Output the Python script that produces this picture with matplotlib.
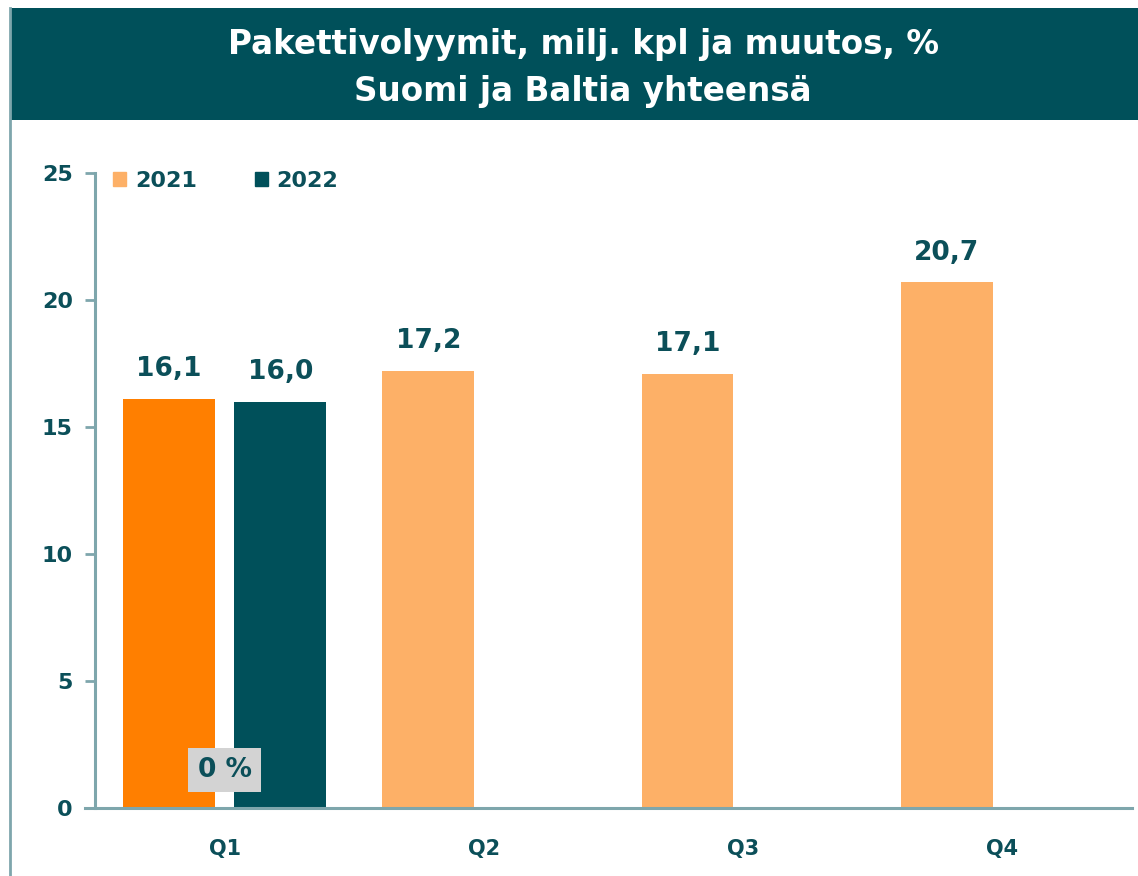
import matplotlib.pyplot as plt
import numpy as np
from matplotlib.lines import Line2D
from matplotlib.patches import Rectangle

# Data.
quarters = ['Q1', 'Q2', 'Q3', 'Q4']
volumes_2021 = [16.1, 17.2, 17.1, 20.7]
volumes_2022 = [16.0]                 # only Q1 reported so far
change_pct = ['0 %']                  # Q1 change 2022 vs 2021
series_names = ['2021', '2022']

TEAL = '#00505A'
TEXT = '#0B4F59'
ORANGE = '#FF7F00'
LIGHT_ORANGE = '#FDB067'
AXIS_GREY = '#7EA6AC'

BAR_WIDTH = 0.354
OFFSET = 0.2145


def main():
    plt.rcParams['font.family'] = ['DejaVu Sans']

    fig = plt.figure(figsize=(11.38, 8.76), dpi=100)

    # Header band with the title, and a thin frame line on the left.
    fig.patches.append(Rectangle((10 / 1138, 1 - 120 / 876),
                                 1 - 10 / 1138, 112 / 876,
                                 transform=fig.transFigure,
                                 facecolor=TEAL, edgecolor='none'))
    fig.lines.append(Line2D([10 / 1138, 10 / 1138], [0, 1 - 8 / 876],
                            transform=fig.transFigure,
                            color=AXIS_GREY, lw=2))
    fig.text(583 / 1138, 1 - 68 / 876,
             'Pakettivolyymit, milj. kpl ja muutos, %\nSuomi ja Baltia yhteensä',
             ha='center', va='center', color='white', fontsize=23.5,
             fontweight='bold', linespacing=1.55)

    ax = fig.add_axes([95 / 1138, 1 - 808 / 876,
                       (1132 - 95) / 1138, (808 - 173) / 876])

    x = np.arange(len(quarters))

    # 2021 bars sit left of each category centre; Q1 is highlighted.
    colors_2021 = [ORANGE] + [LIGHT_ORANGE] * (len(quarters) - 1)
    bars_2021 = ax.bar(x - OFFSET, volumes_2021, width=BAR_WIDTH,
                       color=colors_2021)
    x_2022 = x[:len(volumes_2022)] + OFFSET
    bars_2022 = ax.bar(x_2022, volumes_2022, width=BAR_WIDTH, color=TEAL)

    for bars, values in [(bars_2021, volumes_2021), (bars_2022, volumes_2022)]:
        for bar, val in zip(bars, values):
            ax.annotate(f'{val:.1f}'.replace('.', ','),
                        (bar.get_x() + bar.get_width() / 2, bar.get_height()),
                        xytext=(0, 12), textcoords='offset points',
                        ha='center', va='bottom', color=TEXT,
                        fontsize=19, fontweight='bold')

    # Change label in a grey box at the bottom of Q1.
    for i, label in enumerate(change_pct):
        ax.text(x[i], 1.5, label, ha='center', va='center', color=TEXT,
                fontsize=19, fontweight='bold',
                bbox=dict(boxstyle='square,pad=0.35', facecolor='#D3D3D3',
                          edgecolor='none'))

    ax.set_xlim(-0.5, len(quarters) - 0.5)
    ax.set_ylim(0, 25)
    ax.set_yticks(np.arange(0, 26, 5))
    ax.set_xticks(x)
    ax.set_xticklabels(quarters)

    for side in ['top', 'right']:
        ax.spines[side].set_visible(False)
    for side in ['left', 'bottom']:
        ax.spines[side].set_color(AXIS_GREY)
        ax.spines[side].set_linewidth(2.2)
    ax.spines['bottom'].set_bounds(-0.5 - 10 / 260, len(quarters) - 0.5)
    ax.spines['bottom'].set_zorder(3)

    ax.tick_params(axis='y', length=7, width=2, color=AXIS_GREY, pad=9,
                   labelsize=16, labelcolor=TEXT)
    ax.tick_params(axis='x', length=0, pad=22, labelsize=15, labelcolor=TEXT)
    for lbl in ax.get_xticklabels() + ax.get_yticklabels():
        lbl.set_fontweight('bold')

    handles = [Rectangle((0, 0), 1, 1, color=LIGHT_ORANGE),
               Rectangle((0, 0), 1, 1, color=TEAL)]
    leg = ax.legend(handles, series_names, loc='upper left', ncol=2,
                    frameon=False, handlelength=0.6, handleheight=0.6,
                    handletextpad=0.4, columnspacing=2.6,
                    bbox_to_anchor=(0.002, 1.028), borderaxespad=0.3,
                    prop={'size': 16, 'weight': 'bold'})
    for t in leg.get_texts():
        t.set_color(TEXT)

    fig.savefig('out.png', dpi=100)
    plt.close(fig)


if __name__ == '__main__':
    main()
